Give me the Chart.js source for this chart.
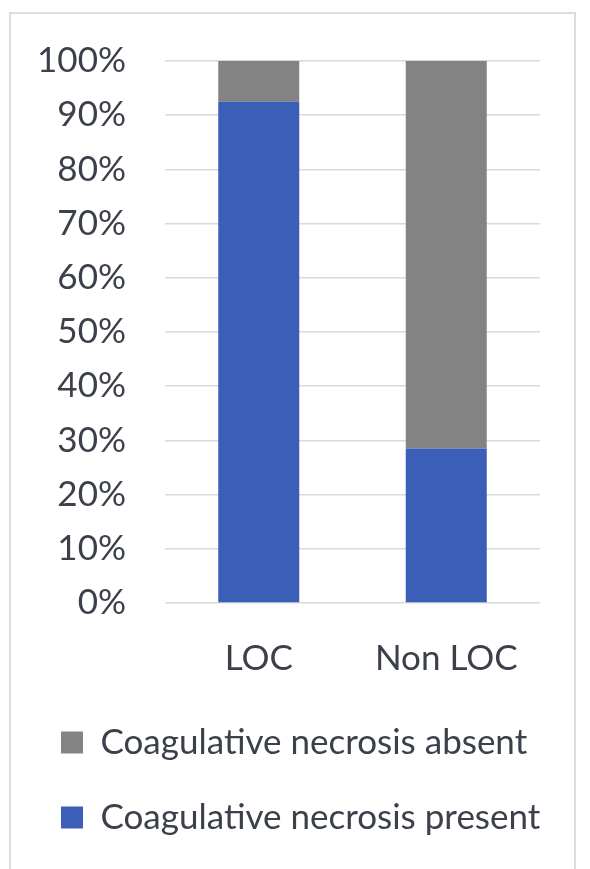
<!DOCTYPE html>
<html lang="en">
<head>
  <meta charset="UTF-8" />
  <title>Coagulative necrosis – LOC vs Non LOC</title>
  <script src="https://cdn.jsdelivr.net/npm/chart.js@4.4.1/dist/chart.umd.min.js"></script>
  <style>
    html, body {margin: 0; padding: 0; background: #fff; overflow: hidden;}
    #wrap {position: relative; width: 590px; height: 869px;}
    #frame {position: absolute; left: 9px; top: 12px; width: 567px; height: 900px;
            border: 2px solid #dcdcdc; box-sizing: border-box;}
    #myChart {position: absolute; left: 0; top: 0;}
  </style>
</head>
<body>
  <div id="wrap">
    <div id="frame"></div>
    <canvas id="myChart" width="590" height="869"></canvas>
  </div>

  <script>
    // values (percent of each group)
    const categories = ["LOC", "Non LOC"];
    const necrosisPresent = [92.5, 28.5];
    const necrosisAbsent = [7.5, 71.5];
    const seriesNames = ["Coagulative necrosis present", "Coagulative necrosis absent"];

    const textColor = "#3b404b";
    const fontFamily = "Lato, 'Open Sans', sans-serif";

    new Chart(document.getElementById("myChart").getContext("2d"), {
      type: "bar",
      data: {
        labels: categories,
        datasets: [
          {label: seriesNames[0], data: necrosisPresent, backgroundColor: "#3b5eb8"},
          {label: seriesNames[1], data: necrosisAbsent, backgroundColor: "#838383"}
        ]
      },
      options: {
        responsive: false,
        animation: false,
        layout: {padding: {left: 21, right: 50, top: 61, bottom: 24}},
        datasets: {bar: {categoryPercentage: 1, barPercentage: 0.432}},
        plugins: {
          tooltip: {enabled: false},
          legend: {
            position: "bottom",
            align: "start",
            reverse: true,      // absent listed first, like the original
            labels: {
              boxWidth: 22, boxHeight: 22, padding: 40,
              color: textColor,
              font: {family: fontFamily, size: 35}
            }
          }
        },
        scales: {
          x: {
            stacked: true,
            grid: {display: false},
            border: {display: false},
            ticks: {color: textColor, padding: 27, font: {family: fontFamily, size: 35}},
            afterFit: (s) => { s.height = 82; }
          },
          y: {
            stacked: true,
            min: 0, max: 100,
            grid: {color: "#d9d9d9", lineWidth: 1.5, drawTicks: false},
            border: {display: false},
            ticks: {
              stepSize: 10, padding: 39, color: textColor,
              font: {family: fontFamily, size: 35},
              callback: (v) => v + "%"
            },
            afterFit: (s) => { s.width = 144; }
          }
        }
      }
    });
  </script>
</body>
</html>
